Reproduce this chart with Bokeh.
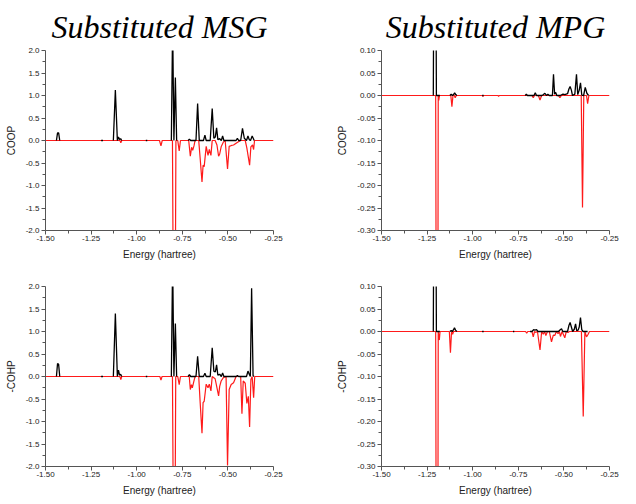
import numpy as np
from bokeh.plotting import figure
from bokeh.layouts import gridplot
from bokeh.models import FixedTicker, NumeralTickFormatter
from bokeh.embed import file_html
from bokeh.resources import INLINE

N = np.nan

# ---------------- Substituted MSG : COOP ----------------
msg_coop_bond_e = [-1.440, -1.434, -1.428, -1.422, N,
                   -1.195, -1.185, N,
                   -1.128, -1.117, -1.106, -1.100, -1.094, -1.088, -1.082, N,
                   -0.950, -0.942, N,
                   -0.810, -0.803, -0.796, -0.788, -0.781, N,
                   -0.718, -0.711, -0.704, -0.675, -0.666, -0.657, -0.634, -0.626, -0.619, -0.597,
                   -0.586, -0.577, -0.569, -0.562, -0.555, -0.545, -0.536, -0.529, -0.522, -0.455,
                   -0.448, -0.441, -0.430, -0.420, -0.410, -0.398, -0.390, -0.383, -0.376, -0.367,
                   -0.360, -0.356]
msg_coop_bond_v = [0, 0.17, 0.17, 0, N,
                   0, 0, N,
                   0, 1.12, 0, 0.08, 0.02, 0.04, 0, N,
                   0, 0, N,
                   0, 2.60, 0, 1.40, 0, N,
                   0, 0.03, 0, 0, 0.82, 0, 0, 0.12, 0, 0,
                   0.71, 0.05, 0.08, 0.28, 0.02, 0.04, 0, 0.10, 0, 0,
                   0.05, 0, 0, 0.27, 0.05, 0, 0.10, 0.02, 0, 0.10,
                   0.04, 0]
msg_coop_anti_e = [-1.50, -1.092, -1.087, -1.082, -0.875, -0.867, -0.860, -0.804, -0.800, -0.788,
                   -0.785, -0.775, -0.767, -0.760, -0.715, -0.706, -0.699, -0.693, -0.686, -0.680,
                   -0.660, -0.652, -0.642, -0.636, -0.630, -0.619, -0.609, -0.602, -0.593, -0.586,
                   -0.570, -0.560, -0.551, -0.545, -0.537, -0.524, -0.515, -0.502, -0.493, -0.480,
                   -0.469, -0.451, -0.440, -0.433, -0.405, -0.396, -0.381, -0.374, -0.365, -0.359,
                   -0.354, -0.25]
msg_coop_anti_v = [0, 0, -0.05, 0, 0, -0.12, 0, 0, -3.0, -3.0,
                   0, 0, -0.23, 0, 0, -0.35, -0.15, -0.22, -0.12, 0,
                   0, -0.40, -0.92, -0.55, -0.58, -0.13, -0.33, -0.20, -0.33, 0,
                   0, -0.10, -0.35, -0.30, -0.14, -0.03, 0, -0.63, -0.13, -0.11,
                   -0.10, -0.05, -0.02, 0, 0, -0.17, -0.55, -0.14, -0.10, -0.20,
                   0, 0]

# ---------------- Substituted MSG : -COHP ----------------
msg_cohp_bond_e = [-1.440, -1.434, -1.428, -1.422, N,
                   -1.195, -1.185, N,
                   -1.128, -1.117, -1.106, -1.100, -1.094, -1.088, -1.082, N,
                   -0.950, -0.942, N,
                   -0.810, -0.803, -0.796, -0.788, -0.781, N,
                   -0.718, -0.711, -0.704, -0.675, -0.666, -0.657, -0.634, -0.626, -0.619, -0.597,
                   -0.586, -0.577, -0.569, -0.562, -0.555, -0.545, -0.536, -0.529, -0.522, -0.455,
                   -0.448, -0.441, -0.398, -0.390, -0.383, -0.377, -0.370, -0.362, -0.357]
msg_cohp_bond_v = [0, 0.29, 0.27, 0, N,
                   0, 0, N,
                   0, 1.40, 0, 0.14, 0.03, 0.05, 0, N,
                   0, 0, N,
                   0, 2.60, 0, 1.18, 0, N,
                   0, 0.04, 0, 0, 0.45, 0, 0, 0.07, 0, 0,
                   0.64, 0.12, 0.10, 0.26, 0.03, 0.05, 0, 0.08, 0, 0,
                   0.02, 0, 0, 0.12, 0.05, 0, 1.96, 0.02, 0]
msg_cohp_anti_e = [-1.50, -1.092, -1.087, -1.082, -0.873, -0.867, -0.861, -0.804, -0.800, -0.789,
                   -0.786, -0.775, -0.767, -0.760, -0.712, -0.706, -0.700, -0.695, -0.688, -0.680,
                   -0.660, -0.652, -0.642, -0.636, -0.630, -0.619, -0.609, -0.602, -0.593, -0.586,
                   -0.570, -0.551, -0.545, -0.537, -0.524, -0.510, -0.502, -0.493, -0.482, -0.469,
                   -0.455, -0.430, -0.423, -0.416, -0.405, -0.396, -0.388, -0.381, -0.374, -0.367,
                   -0.359, -0.353, -0.25]
msg_cohp_anti_v = [0, 0, -0.07, 0, 0, -0.08, 0, 0, -2.6, -2.6,
                   0, 0, -0.18, 0, 0, -0.29, -0.18, -0.25, -0.13, 0,
                   0, -0.58, -1.26, -0.58, -0.55, -0.17, -0.25, -0.17, -0.32, 0,
                   -0.05, -0.43, -0.22, -0.10, -0.02, 0, -1.98, -0.29, -0.18, -0.14,
                   0, 0, -0.83, -0.10, -0.15, -0.60, -0.44, -1.12, -0.07, 0,
                   -0.47, 0, 0]

# ---------------- Substituted MPG : COOP ----------------
mpg_coop_bond_e = [-1.216, -1.213, -1.202, -1.199, -1.180, N,
                   -1.125, -1.118, -1.112, -1.105, -1.099, -1.093, -1.087, N,
                   -0.948, -0.940, N,
                   -0.712, -0.706, -0.700, -0.664, -0.657, -0.650, -0.620, -0.612, -0.604, -0.596,
                   -0.588, -0.580, -0.563, -0.557, -0.551, -0.545, -0.539, -0.520, -0.505, -0.495,
                   -0.480, -0.472, -0.466, -0.459, -0.453, -0.440, -0.431, -0.424, -0.416, -0.409,
                   -0.402, -0.392, -0.383, -0.374, -0.365]
mpg_coop_bond_v = [0, 0.3, 0.3, 0, 0, N,
                   0, 0.003, 0, 0.002, 0.006, 0.002, 0, N,
                   0, 0, N,
                   0, 0.003, 0, 0, 0.006, 0, 0, 0.002, 0.005, 0,
                   0.003, 0, 0, 0.047, 0.003, 0.007, 0, 0, 0.003, 0.002,
                   0.004, 0.015, 0.020, 0.012, 0, 0.003, 0.047, 0.002, 0.012, 0.028,
                   0.001, 0, 0.018, 0.005, 0]
mpg_coop_anti_e = [-1.50, -1.203, -1.200, -1.191, -1.189, -1.186, -1.182, -1.120, -1.114, -1.108,
                   -1.100, -1.096, -1.090, -0.947, -0.944, -0.941, -0.861, -0.858, -0.855, -0.675,
                   -0.668, -0.661, -0.640, -0.631, -0.622, -0.530, -0.522, -0.514, -0.405, -0.398,
                   -0.391, -0.376, -0.370, -0.363, -0.25]
mpg_coop_anti_v = [0, 0, -0.5, -0.5, 0, -0.011, 0, 0, -0.025, 0,
                   0, -0.005, 0, 0, -0.002, 0, 0, -0.002, 0, 0,
                   -0.005, 0, 0, -0.010, 0, 0, -0.005, 0, 0, -0.249,
                   0, 0, -0.018, 0, 0]

# ---------------- Substituted MPG : -COHP ----------------
mpg_cohp_bond_e = [-1.216, -1.213, -1.202, -1.199, -1.180, N,
                   -1.125, -1.118, -1.112, -1.105, -1.100, -1.094, -1.087, N,
                   -0.948, -0.940, N,
                   -0.779, -0.772, N,
                   -0.686, -0.675, -0.666, -0.659, -0.650, -0.642, -0.530, -0.520, -0.513, -0.506,
                   -0.480, -0.472, -0.466, -0.459, -0.452, -0.443, -0.436, -0.430, -0.422, -0.416,
                   -0.409, -0.402, -0.395, -0.370]
mpg_cohp_bond_v = [0, 0.3, 0.3, 0, 0, N,
                   0, 0.002, 0, 0.004, 0.008, 0.003, 0, N,
                   0, 0, N,
                   0, 0, N,
                   0, 0, 0.004, 0.003, 0.004, 0, 0, 0.004, 0.006, 0,
                   0, 0.014, 0.020, 0.010, 0, 0.005, 0.017, 0.002, 0.003, 0.010,
                   0.031, 0.004, 0, 0]
mpg_cohp_anti_e = [-1.50, -1.203, -1.200, -1.191, -1.189, -1.183, -1.179, -1.128, -1.122, -1.116,
                   -1.110, -1.105, -1.100, -0.710, -0.704, -0.698, -0.675, -0.668, -0.661, -0.655,
                   -0.645, -0.631, -0.622, -0.613, -0.606, -0.599, -0.590, -0.580, -0.568, -0.558,
                   -0.550, -0.541, -0.532, -0.525, -0.519, -0.510, -0.495, -0.487, -0.477, -0.470,
                   -0.404, -0.394, -0.385, -0.376, -0.367, -0.360, -0.25]
mpg_cohp_anti_v = [0, 0, -0.5, -0.5, 0, -0.019, 0, 0, -0.047, 0,
                   -0.006, 0, 0, 0, -0.004, 0, 0, -0.012, 0, -0.002,
                   0, -0.041, 0, -0.006, 0, -0.009, 0, 0, -0.023, -0.008,
                   -0.009, 0, -0.005, 0, -0.011, 0, -0.014, 0, -0.002, 0,
                   0, -0.189, 0, -0.012, -0.006, 0, 0]

titles = ["Substituted MSG", "Substituted MPG"]
x_label = "Energy (hartree)"
y_labels = ["COOP", "-COHP"]
x_limits = (-1.5, -0.25)
msg_limits = (-2.0, 2.0)
mpg_limits = (-0.30, 0.10)

x_ticks = [-1.50, -1.25, -1.00, -0.75, -0.50, -0.25]
msg_ticks = [-2.0, -1.5, -1.0, -0.5, 0.0, 0.5, 1.0, 1.5, 2.0]
mpg_ticks = [-0.30, -0.25, -0.20, -0.15, -0.10, -0.05, 0.00, 0.05, 0.10]

SANS = "Liberation Sans"


def with_minor(ticks):
    t = list(ticks)
    return [(a + b) / 2.0 for a, b in zip(t[:-1], t[1:])]


def make_panel(bond_e, bond_v, anti_e, anti_v, ylabel, yr, yticks, yfmt,
               left, right, top, bottom, title=None):
    p = figure(frame_width=228, frame_height=180, x_range=x_limits, y_range=yr,
               output_backend="svg", toolbar_location=None,
               min_border_left=left, min_border_right=right,
               min_border_top=top, min_border_bottom=bottom,
               background_fill_color="white", border_fill_color="white")
    p.outline_line_color = None
    p.xgrid.visible = False
    p.ygrid.visible = False
    if title:
        p.title.text = title
        p.title.align = "center"
        p.title.text_font = "Liberation Serif"
        p.title.text_font_style = "italic"
        p.title.text_font_size = "32px"
        p.title.text_color = "#000000"
        p.title.standoff = 12
    p.line(np.array(anti_e, dtype=float), np.array(anti_v, dtype=float),
           line_color="#ff1a1a", line_width=1.2)
    p.line(np.array(bond_e, dtype=float), np.array(bond_v, dtype=float),
           line_color="#000000", line_width=1.3)

    p.xaxis.ticker = FixedTicker(ticks=x_ticks, minor_ticks=with_minor(x_ticks))
    p.yaxis.ticker = FixedTicker(ticks=yticks, minor_ticks=with_minor(yticks))
    p.xaxis.formatter = NumeralTickFormatter(format="0.00")
    p.yaxis.formatter = NumeralTickFormatter(format=yfmt)
    p.xaxis.axis_label = x_label
    p.yaxis.axis_label = ylabel
    for ax in (p.xaxis[0], p.yaxis[0]):
        ax.axis_line_color = "#555555"
        ax.major_tick_line_color = "#555555"
        ax.minor_tick_line_color = "#555555"
        ax.major_tick_in = 0
        ax.major_tick_out = 4
        ax.minor_tick_in = 0
        ax.minor_tick_out = 3
        ax.major_label_text_font = SANS
        ax.major_label_text_font_size = "8px"
        ax.major_label_text_color = "#222222"
        ax.axis_label_text_font = SANS
        ax.axis_label_text_font_size = "10px"
        ax.axis_label_text_font_style = "normal"
        ax.axis_label_text_color = "#222222"
    p.xaxis.major_label_standoff = 1
    p.xaxis.axis_label_standoff = 5
    p.yaxis.major_label_standoff = 2
    p.yaxis.axis_label_standoff = 6
    return p


p1 = make_panel(msg_coop_bond_e, msg_coop_bond_v, msg_coop_anti_e, msg_coop_anti_v,
                y_labels[0], msg_limits, msg_ticks, "0.0", 45, 37, 40, 31, title=titles[0])
p2 = make_panel(mpg_coop_bond_e, mpg_coop_bond_v, mpg_coop_anti_e, mpg_coop_anti_v,
                y_labels[0], mpg_limits, mpg_ticks, "0.00", 71, 11, 40, 31, title=titles[1])
p3 = make_panel(msg_cohp_bond_e, msg_cohp_bond_v, msg_cohp_anti_e, msg_cohp_anti_v,
                y_labels[1], msg_limits, msg_ticks, "0.0", 45, 37, 24, 31)
p4 = make_panel(mpg_cohp_bond_e, mpg_cohp_bond_v, mpg_cohp_anti_e, mpg_cohp_anti_v,
                y_labels[1], mpg_limits, mpg_ticks, "0.00", 71, 11, 24, 31)

grid = gridplot([[p1, p2], [p3, p4]], toolbar_location=None)

open("out.html", "w").write(file_html(grid, INLINE))
